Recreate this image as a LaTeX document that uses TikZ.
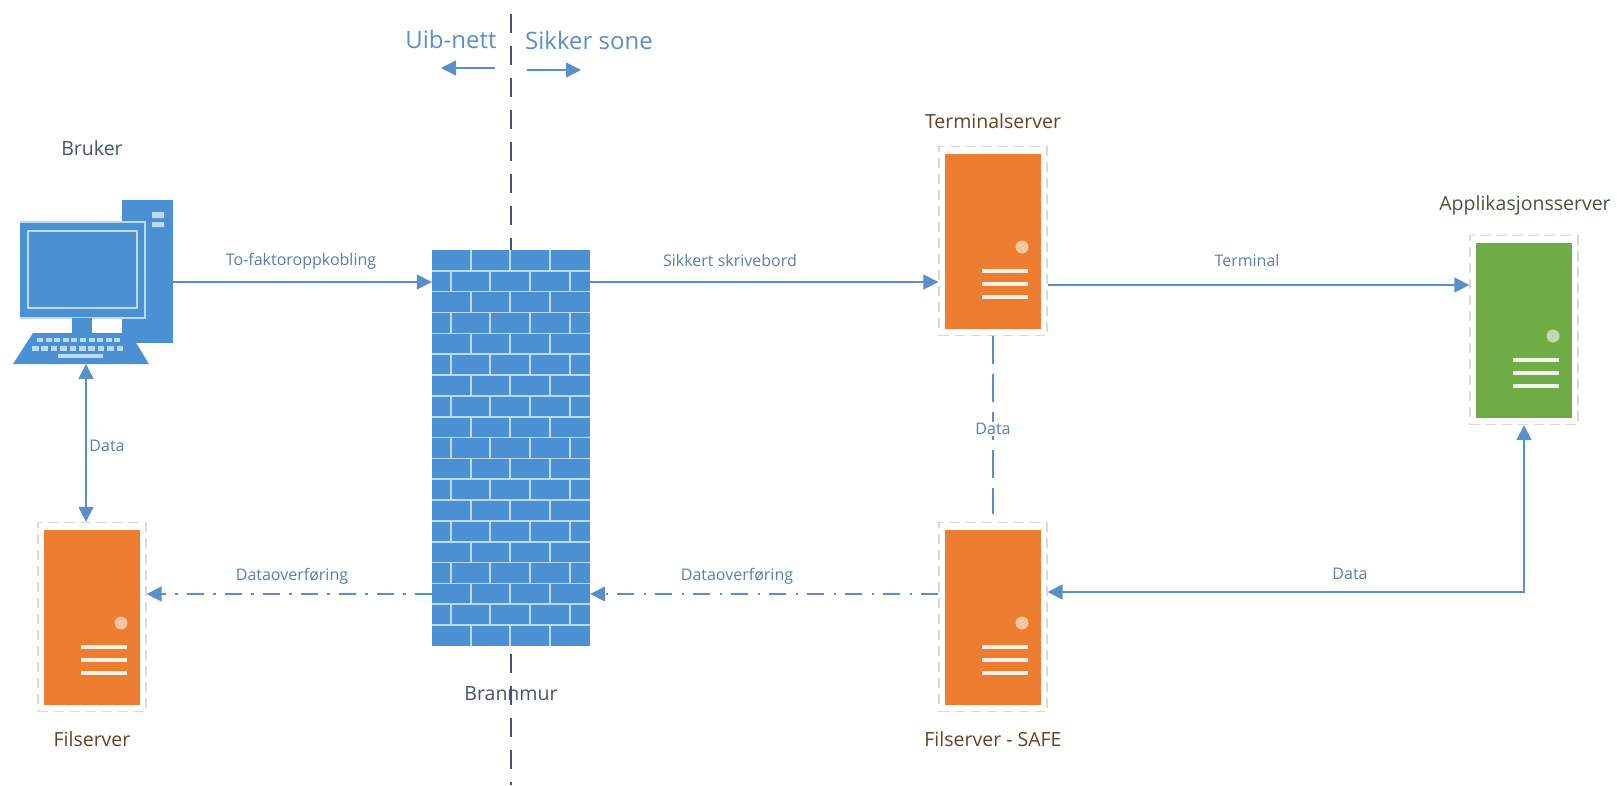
\documentclass[tikz,border=0pt]{standalone}
\usepackage{fontspec}
\setmainfont{Open Sans}
\usetikzlibrary{arrows.meta}
\definecolor{linjeblaa}{HTML}{5B8FC9}
\definecolor{murblaa}{HTML}{4A90D2}
\definecolor{murlys}{HTML}{BBD9F2}
\definecolor{oransje}{HTML}{ED7D31}
\definecolor{groenn}{HTML}{70AD47}
\definecolor{tekstblaa}{HTML}{44546A}
\definecolor{tekstbrun}{HTML}{6B3F22}
\definecolor{tekstgroenn}{HTML}{3F5A35}
\definecolor{etikett}{HTML}{5580AD}
\tikzset{
    ramme/.style = {draw = black!15, dash pattern = on 10pt off 6pt, line width = 1.3pt, minimum width = 108pt, minimum height = 189pt, inner sep = 0pt},
    linje/.style = {draw = linjeblaa, line width = 1.5pt},
    pil/.style = {linje, -{Triangle[length = 15pt, width = 15pt]}},
    dobbelpil/.style = {linje, {Triangle[length = 15pt, width = 15pt]}-{Triangle[length = 15pt, width = 15pt]}},
    strekpil/.style = {pil, dash pattern = on 17pt off 9pt on 2.5pt off 9.5pt},
    etikett/.style = {text = etikett, font = \fontsize{16}{18}\selectfont, inner sep = 1pt},
    navn/.style = {font = \fontsize{19.5}{22}\selectfont, inner sep = 1pt},
    sone/.style = {text = linjeblaa, font = \fontsize{24}{28}\selectfont, inner sep = 1pt}
}
\begin{document}
\begin{tikzpicture}[x = 1pt, y = -1pt]
    \useasboundingbox (0,0) rectangle (1617,785);

    \coordinate (sonetopp) at (511,14);
    \coordinate (sonebunn) at (511,785);
    \draw[draw = tekstblaa, line width = 1.8pt, dash pattern = on 19pt off 13pt] (sonetopp) -- (sonebunn);

    \node[sone] (uib) at (451,39) {Uib-nett};
    \node[sone] (sikker) at (589,40) {Sikker sone};
    \coordinate (uibstart) at (495,68);
    \coordinate (uibslutt) at (441,68);
    \coordinate (sikkerstart) at (527,70);
    \coordinate (sikkerslutt) at (581,70);
    \draw[pil] (uibstart) -- (uibslutt);
    \draw[pil] (sikkerstart) -- (sikkerslutt);

    % PC
    \node[fill = murblaa, minimum width = 51pt, minimum height = 143pt, inner sep = 0pt] (tower) at (147.5,271.5) {};
    \fill[murlys] (152,212) rectangle (164,218) (152,222) rectangle (164,227);
    \fill[murblaa] (20,222) rectangle (145,318);
    \draw[murlys, line width = 1.4pt] (20,222) -- (145,222) -- (145,318) -- (20,318);
    \draw[murlys, line width = 1.6pt] (28,231) rectangle (137,308);
    \fill[murblaa] (72,318) rectangle (92,333);
    \fill[murblaa] (33,333) -- (130,333) -- (149,364) -- (13,364) -- cycle;
    \foreach \i in {0,...,9} {
        \fill[murlys] (37+\i*8.6,338) rectangle ++(6,4);
        \fill[murlys] (32+\i*9.4,346) rectangle ++(6.5,5);
    }
    \fill[murlys] (58,354) rectangle (103,358);
    \coordinate (tastatur) at (86,364);
    \node[navn, text = tekstblaa] (bruker) at (92,148) {Bruker};

    % brannmur
    \node[fill = murblaa, minimum width = 158pt, minimum height = 396pt, inner sep = 0pt] (mur) at (511,448) {};
    \foreach \r in {1,...,18}
        \draw[murlys, line width = 1.6pt] (432,250+\r*20.84) -- (590,250+\r*20.84);
    \foreach \r in {0,2,...,18}
        \foreach \x in {471,510,550}
            \draw[murlys, line width = 1.6pt] (\x,250+\r*20.84) -- (\x,270.84+\r*20.84);
    \foreach \r in {1,3,...,17}
        \foreach \x in {451,490,530,570}
            \draw[murlys, line width = 1.6pt] (\x,250+\r*20.84) -- (\x,270.84+\r*20.84);
    \node[navn, text = tekstblaa] (brannmur) at (511,694) {Brannmur};

    % servere
    \node[ramme] (terminal) at (993,241) {};
    \node[ramme] (app) at (1524,330) {};
    \node[ramme] (safe) at (993,617) {};
    \node[ramme] (fil) at (92,617) {};
    \foreach \srv/\farge in {terminal/oransje, app/groenn, safe/oransje, fil/oransje} {
        \fill[\farge] ([shift = {(-48,-87.5)}]\srv.center) rectangle ([shift = {(48,87.5)}]\srv.center);
        \fill[white!55!\farge] ([shift = {(29,6)}]\srv.center) circle (6.5pt);
        \foreach \d in {30,43,56}
            \draw[white!88!\farge, line width = 3.5pt] ([shift = {(-11,\d)}]\srv.center) -- ++(46,0);
    }
    \node[navn, text = tekstbrun] (terminalnavn) at (993,121) {Terminalserver};
    \node[navn, text = tekstgroenn] (appnavn) at (1525,205) {Applikasjonsserver};
    \node[navn, text = tekstbrun] (safenavn) at (993,739) {Filserver - SAFE};
    \node[navn, text = tekstbrun] (filnavn) at (92,739) {Filserver};

    % piler
    \coordinate (termv) at ([yshift = -41pt]terminal.west);
    \coordinate (appv) at ([yshift = 45pt]app.west);
    \coordinate (safev) at ([yshift = 23pt]safe.west);
    \coordinate (safeh) at ([yshift = 25pt]safe.east);
    \draw[pil] (tower.east |- termv) -- (mur.west |- termv);
    \draw[pil] (mur.east |- termv) -- (termv);
    \draw[pil] (terminal.east |- appv) -- (appv);
    \draw[dobbelpil] (tastatur) -- (tastatur |- fil.north);
    \draw[strekpil] (mur.west |- safev) -- (fil.east |- safev);
    \draw[strekpil] (safev) -- (mur.east |- safev);
    \draw[linje, dash pattern = on 28pt off 10pt, shorten >= 8pt] (terminal.south) -- (safe.north);
    \draw[dobbelpil] (safeh) -| (app.south);

    \node[etikett] (tofaktor) at (301,261) {To-faktoroppkobling};
    \node[etikett] (skrivebord) at (730,260) {Sikkert skrivebord};
    \node[etikett] (term) at (1247,260) {Terminal};
    \node[etikett] (datapc) at (107,446) {Data};
    \node[etikett, fill = white] (dataterm) at (993,429) {Data};
    \node[etikett] (dataapp) at (1350,574) {Data};
    \node[etikett] (overf1) at (292,576) {Dataoverføring};
    \node[etikett] (overf2) at (737,576) {Dataoverføring};
\end{tikzpicture}
\end{document}
